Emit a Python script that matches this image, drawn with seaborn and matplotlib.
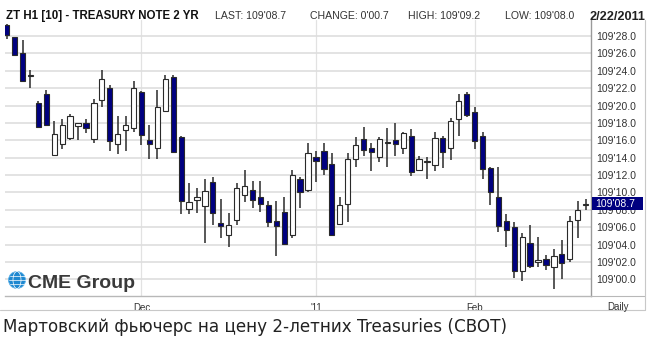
import matplotlib
matplotlib.use("Agg")
import matplotlib.pyplot as plt
from matplotlib.patches import Rectangle, Ellipse
from matplotlib.lines import Line2D
from matplotlib import font_manager
import numpy as np
import pandas as pd
import seaborn as sns

# ---------------- data (prices in 32nds above 109) ----------------
opens = [29.3, 27.85, 26.0, 23.4, 20.25, 21.3, 14.3, 15.6, 16.3, 17.65,
         17.95, 16.15, 20.6, 22.0, 15.6, 17.2, 17.4, 21.5, 16.0, 15.15,
         19.4, 23.25, 16.35, 8.05, 9.1, 8.45, 11.25, 6.5, 5.1, 6.8,
         9.7, 10.3, 9.45, 8.55, 6.7, 7.7, 5.1, 11.5, 10.3, 14.05,
         14.8, 13.25, 6.35, 8.65, 13.9, 16.1, 15.1, 14.1, 15.65, 16.0,
         15.15, 16.5, 12.6, 13.5, 13.1, 16.3, 15.15, 18.4, 21.3, 19.2,
         16.5, 12.8, 9.45, 6.7, 6.0, 0.9, 4.2, 2.05, 2.3, 1.4,
         2.9, 2.3, 6.8, 8.5]
highs = [29.4, 27.9, 27.5, 24.1, 20.5, 21.8, 18.2, 18.5, 19.0, 18.0,
         18.5, 20.7, 24.1, 22.4, 18.8, 18.8, 22.8, 21.7, 17.75, 21.8,
         23.5, 23.5, 16.5, 11.05, 10.5, 11.5, 11.75, 9.2, 7.6, 11.05,
         12.6, 11.3, 11.3, 9.05, 9.0, 9.5, 12.6, 11.8, 15.7, 14.8,
         15.7, 14.5, 9.45, 14.5, 16.35, 17.55, 15.7, 16.4, 17.4, 18.0,
         17.0, 17.3, 14.2, 14.1, 17.0, 16.5, 18.6, 21.3, 21.6, 19.8,
         17.0, 12.95, 12.95, 7.5, 6.65, 5.3, 6.25, 4.85, 2.8, 3.5,
         4.5, 7.3, 9.0, 9.25]
lows = [27.7, 25.7, 22.7, 22.0, 17.5, 17.75, 14.2, 15.0, 16.0, 16.0,
        16.8, 15.65, 19.8, 14.8, 14.4, 14.8, 16.9, 15.5, 13.8, 13.8,
        19.3, 14.5, 7.5, 7.5, 7.6, 4.2, 6.25, 4.7, 3.7, 6.25,
        8.95, 8.2, 7.7, 6.0, 2.7, 3.95, 4.7, 8.2, 10.0, 11.25,
        12.0, 5.0, 6.25, 6.65, 12.95, 14.2, 12.5, 13.55, 12.95, 14.2,
        14.4, 11.9, 12.5, 11.5, 12.5, 12.8, 13.7, 16.5, 18.7, 14.95,
        11.5, 8.55, 5.5, 3.75, 0.2, -0.2, 1.25, 1.45, 1.05, -1.15,
        0.0, 2.05, 4.7, 8.0]
closes = [28.1, 25.8, 22.8, 23.4, 17.57, 17.8, 16.7, 17.7, 18.8, 17.95,
          17.4, 20.25, 23.0, 15.95, 16.7, 17.75, 22.0, 16.6, 15.6, 19.8,
          23.0, 14.6, 9.05, 8.95, 9.45, 10.2, 7.6, 6.15, 6.25, 10.5,
          10.75, 9.1, 8.65, 6.65, 6.15, 4.05, 12.0, 10.1, 14.5, 13.65,
          12.65, 5.1, 8.55, 13.8, 15.45, 14.9, 14.7, 16.2, 15.65, 15.55,
          16.8, 12.4, 13.8, 13.5, 16.3, 14.7, 18.2, 20.5, 18.9, 15.95,
          12.65, 10.1, 6.15, 5.7, 0.9, 4.85, 1.55, 2.05, 1.6, 2.7,
          1.9, 6.7, 8.0, 8.7]
holidays = ["2010-11-25", "2010-12-24", "2011-01-17", "2011-02-21"]
month_labels = {12: "Dec", 1: "'11", 2: "Feb"}
ytick_values = list(range(0, 30, 2))
last_value = 8.7
header_title = "ZT H1 [10] - TREASURY NOTE 2 YR"
header_items = ["LAST: 109'08.7", "CHANGE: 0'00.7", "HIGH: 109'09.2", "LOW: 109'08.0"]
header_date = "2/22/2011"
caption = "Мартовский фьючерс на цену 2-летних Treasuries (CBOT)"

# ---------------- build frame ----------------
days = pd.bdate_range("2010-11-05", "2011-02-22")
days = days[~days.isin(pd.to_datetime(holidays))]
df = pd.DataFrame({"date": days, "open": opens, "high": highs,
                   "low": lows, "close": closes})
df["i"] = np.arange(len(df))
first_of_month = df[df["date"].dt.month != df["date"].shift(1).dt.month].iloc[1:]

# ---------------- style ----------------
sns.set_style("white")
plt.rcParams["font.family"] = ["Liberation Sans", "DejaVu Sans"]

W, H = 658, 337
fig = plt.figure(figsize=(W / 100, H / 100), dpi=100)
fig.patch.set_facecolor("white")


def fx(px):
    return px / W


def fy(py):
    return 1 - py / H


ax = fig.add_axes([fx(5), fy(296), (591 - 5) / W, (296 - 20) / H])
ax.set_facecolor("white")

NAVY = "#000080"
EDGE = "#2a2a2a"

# wicks
ax.vlines(df["i"], df["low"], df["high"], color=EDGE, linewidth=1.1, zorder=3)
# bodies
up = df["close"] >= df["open"]
bottoms = np.minimum(df["open"], df["close"])
heights = np.maximum(np.abs(df["close"] - df["open"]), 0.12)
ax.bar(df["i"], heights, bottom=bottoms, width=0.66,
       color=np.where(up, "white", NAVY), edgecolor=EDGE,
       linewidth=0.8, zorder=4)

# grid
ax.set_yticks(ytick_values)
ax.yaxis.grid(True, color="#dedede", linewidth=1.2, zorder=0)
ax.xaxis.grid(False)
for i in first_of_month["i"]:
    ax.axvline(i, color="#e2e2e2", linewidth=0.9, zorder=0)

ax.set_xlim(-0.21, 73.68)
ax.set_ylim(-1.92, 29.84)

ax.yaxis.tick_right()
ax.set_yticklabels(["109'%04.1f" % v for v in ytick_values])
ax.tick_params(axis="y", length=0, pad=4, labelsize=7.5, labelcolor="#333333")
ax.set_xticks(first_of_month["i"])
ax.set_xticklabels([month_labels[d.month] for d in first_of_month["date"]])
ax.tick_params(axis="x", length=0, pad=5, labelsize=7, labelcolor="#333333")

for s in ["left", "top"]:
    ax.spines[s].set_visible(False)
ax.spines["right"].set_color("#9a9a9a")
ax.spines["right"].set_linewidth(1.0)
ax.spines["bottom"].set_color("#b8b8b8")
ax.spines["bottom"].set_linewidth(1.0)

# last value marker box (figure-level so it sits above the tick labels)
y_last = ax.transData.transform((0, last_value))[1]
y_last_fig = fig.transFigure.inverted().transform((0, y_last))[1]
fig.add_artist(Rectangle((fx(592), y_last_fig - 6.5 / H), 51 / W, 13 / H,
                         transform=fig.transFigure, facecolor=NAVY,
                         edgecolor="none", zorder=10))
fig.text(fx(595), y_last_fig, "109'%04.1f" % last_value, ha="left", va="center",
         fontsize=7.5, color="white", zorder=11)

# frame lines
fig.add_artist(Line2D([fx(591), fx(645)], [fy(296), fy(296)], color="#b8b8b8", lw=0.8))
fig.add_artist(Line2D([fx(645), fx(645)], [fy(20), fy(310)], color="#c8c8c8", lw=0.8))
fig.add_artist(Line2D([fx(0), fx(645)], [fy(310), fy(310)], color="#c8c8c8", lw=0.8))
fig.text(fx(618), fy(309.5), "Daily", ha="center", va="baseline",
         fontsize=7, color="#333333")

# header
names = {f.name for f in font_manager.fontManager.ttflist}
if "Liberation Sans Narrow" in names:
    title_font, title_size = ["Liberation Sans Narrow", "DejaVu Sans"], 10.2
else:
    title_font, title_size = ["Liberation Sans", "DejaVu Sans"], 8.3
fig.text(fx(6), fy(19.5), header_title, fontsize=title_size, family=title_font,
         fontweight="bold", color="#111111", va="baseline")
for x0, t in zip([215, 310, 408, 505], header_items):
    fig.text(fx(x0), fy(19.3), t, fontsize=7.6, color="#333333", va="baseline")
fig.text(fx(645), fy(19.5), header_date, fontsize=9.2, fontweight="bold",
         color="#222222", va="baseline", ha="right")

# CME Group logo
fig.add_artist(Ellipse((fx(17), fy(280)), 17 / W, 17 / H, transform=fig.transFigure,
                       facecolor="#1e88d0", edgecolor="#5fb2e8", lw=0.6, zorder=8))
for dy in (-4, 0, 4):
    half = np.sqrt(max(8.5 ** 2 - dy ** 2, 0))
    fig.add_artist(Line2D([fx(17 - half), fx(17 + half)], [fy(280 + dy), fy(280 + dy)],
                          color="white", lw=0.5, zorder=9))
fig.add_artist(Ellipse((fx(17), fy(280)), 8 / W, 17 / H, transform=fig.transFigure,
                       facecolor="none", edgecolor="white", lw=0.5, zorder=9))
fig.text(fx(28), fy(287.5), "CME Group", fontsize=14, fontweight="bold",
         color="#3a3a3a", va="baseline", zorder=9)

# caption
fig.text(fx(3), fy(332), caption, fontsize=12.1, family=["DejaVu Sans"],
         color="#222222", va="baseline")

fig.savefig("out.png", dpi=100)
